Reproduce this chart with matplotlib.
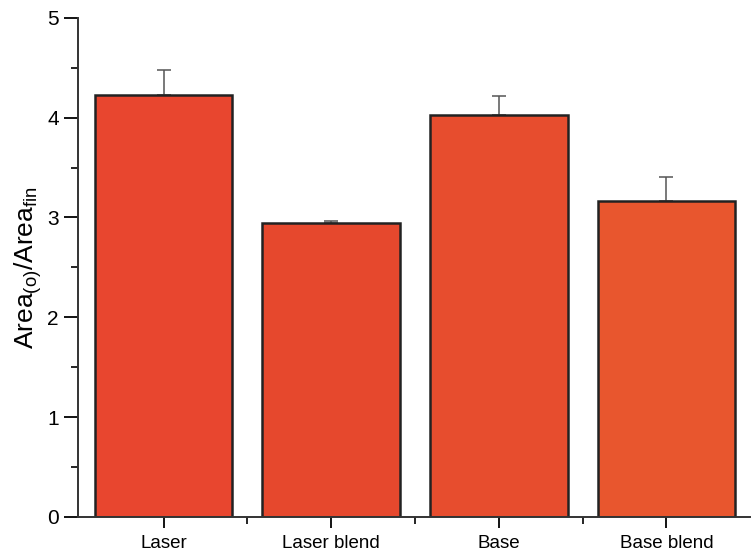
import numpy as np
import matplotlib.pyplot as plt

# ------------------------------------------------------------
# Data
# ------------------------------------------------------------
categories = ["Laser", "Laser blend", "Base", "Base blend"]
ratio = [4.23, 2.94, 4.03, 3.16]
ratio_err = [0.25, 0.02, 0.19, 0.25]
bar_colors = ["#e8462f", "#e6482d", "#e74d2e", "#e8562e"]

plt.rcParams.update({
    "font.family": ["Liberation Sans", "DejaVu Sans"],
    "font.size": 12,
})

fig = plt.figure(figsize=(7.51, 5.57), dpi=100)
ax = fig.add_axes([0.104, 0.072, 0.895, 0.896])

x = np.arange(1, len(categories) + 1)
ax.bar(
    x,
    ratio,
    width=0.82,
    color=bar_colors,
    edgecolor="#222222",
    linewidth=1.8,
    zorder=2,
)
ax.errorbar(
    x,
    ratio,
    yerr=[np.zeros(len(ratio_err)), ratio_err],
    fmt="none",
    ecolor="#555555",
    elinewidth=1.1,
    capsize=5,
    capthick=1.1,
    zorder=1,
)

ax.set_xlim(0.49, 4.5)
ax.set_ylim(0, 5)
ax.set_xticks(x)
ax.set_xticklabels(categories, fontsize=13.5)
ax.set_xticks(x[:-1] + 0.5, minor=True)
ax.set_yticks(np.arange(0, 6, 1))
ax.set_yticks(np.arange(0.5, 5, 1), minor=True)
ax.tick_params(axis="y", which="major", labelsize=15, length=10, width=1.3, direction="out", pad=4)
ax.tick_params(axis="y", which="minor", length=5, width=1.2, direction="out")
ax.tick_params(axis="x", which="major", length=8, width=1.3, direction="out", pad=5)
ax.tick_params(axis="x", which="minor", length=5, width=1.2, direction="out")

for side in ["top", "right"]:
    ax.spines[side].set_visible(False)
for side in ["left", "bottom"]:
    ax.spines[side].set_linewidth(1.4)
    ax.spines[side].set_color("#333333")

ax.set_ylabel(r"Area$_{\mathregular{(o)}}$/Area$_{\mathregular{fin}}$", fontsize=19, labelpad=2)

fig.savefig("out.png", dpi=100, facecolor="white")
